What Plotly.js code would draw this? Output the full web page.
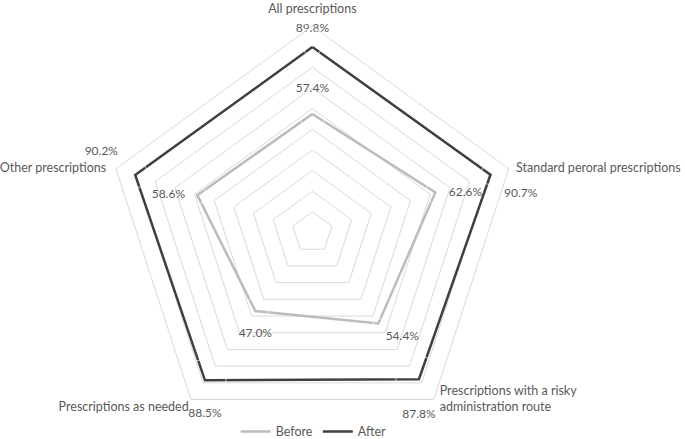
<!DOCTYPE html>
<html>
<head>
<meta charset="utf-8">
<script src="https://cdn.plot.ly/plotly-3.0.1.min.js"></script>
<style>
  html, body { margin: 0; padding: 0; background: #fff; }
  #chart { width: 685px; height: 439px; }
</style>
</head>
<body>
<div id="chart"></div>
<script>
// categories, clockwise from the top
var categories = ['All prescriptions', 'Standard peroral prescriptions',
    'Prescriptions with a risky<br>administration route', 'Prescriptions as needed', 'Other prescriptions'];
var before = [57.4, 62.6, 54.4, 47.0, 58.6];
var after = [89.8, 90.7, 87.8, 88.5, 90.2];
var rMax = 100;

// where each label sits next to its point (and how far, via an invisible marker)
var beforePos = ['top center', 'middle right', 'bottom right', 'bottom center', 'middle left'];
var beforeGap = [28, 20, 10, 26, 18];
var afterPos = ['top center', 'bottom right', 'bottom center', 'bottom center', 'top left'];
var afterGap = [18, 20, 46, 42, 26];
var catPos = ['top center', 'middle right', 'middle right', 'bottom left', 'middle left'];
var catGap = [14, 10, 8, 2, 14];

function closeLoop(arr){ return arr.concat([arr[0]]); }
function pct(arr){ return arr.map(function(v){ return v.toFixed(1) + '%'; }); }

var font = {family: 'Lato, "Open Sans", sans-serif', size: 12, color: '#595959'};
var catFont = {family: 'Lato, "Open Sans", sans-serif', size: 12.5, color: '#595959'};

function labelTrace(r, text, pos, gap, f){
    return {
        type: 'scatterpolar', mode: 'markers+text', showlegend: false,
        r: r, theta: categories, text: text, textposition: pos,
        marker: {size: gap, color: 'rgba(0,0,0,0)'}, textfont: f,
        hoverinfo: 'skip', cliponaxis: false
    };
}

var data = [
    {
        type: 'scatterpolar', name: 'Before', mode: 'lines',
        r: closeLoop(before), theta: closeLoop(categories),
        line: {color: '#bcbcbc', width: 2.5},
        hoverinfo: 'skip'
    },
    {
        type: 'scatterpolar', name: 'After', mode: 'lines',
        r: closeLoop(after), theta: closeLoop(categories),
        line: {color: '#404040', width: 2.5},
        hoverinfo: 'skip'
    },
    labelTrace(before, pct(before), beforePos, beforeGap, font),
    labelTrace(after, pct(after), afterPos, afterGap, font),
    labelTrace(categories.map(function(){ return rMax; }), categories, catPos, catGap, catFont)
];

var layout = {
    width: 685, height: 439,
    margin: {l: 0, r: 0, t: 26, b: 0, autoexpand: false},
    paper_bgcolor: '#fff',
    font: font,
    showlegend: true,
    legend: {orientation: 'h', x: 0.458, xanchor: 'center', y: 0.017, yanchor: 'middle',
             font: catFont, bgcolor: 'rgba(0,0,0,0)', itemwidth: 30},
    polar: {
        domain: {x: [0.153, 0.759], y: [0, 1]},
        gridshape: 'linear',
        bgcolor: '#fff',
        radialaxis: {range: [0, rMax], dtick: 10, showticklabels: false, ticks: '',
                     showline: false, gridcolor: '#d9d9d9', gridwidth: 1},
        angularaxis: {direction: 'clockwise', rotation: 90, showgrid: false, ticks: '',
                      showticklabels: false,
                      showline: true, linecolor: '#d9d9d9', linewidth: 1}
    }
};

Plotly.newPlot('chart', data, layout, {displayModeBar: false, staticPlot: true});
</script>
</body>
</html>
